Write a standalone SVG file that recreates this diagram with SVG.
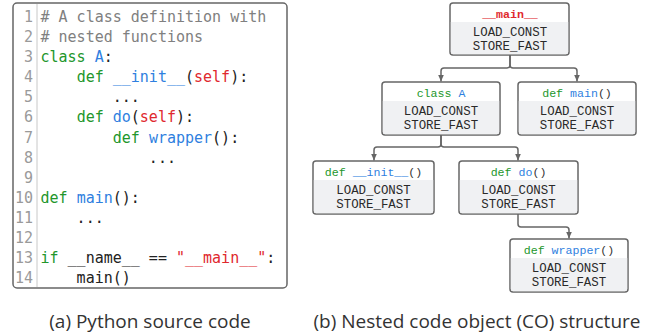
<svg xmlns="http://www.w3.org/2000/svg" width="651" height="336" viewBox="0 0 651 336">
<style>
.code{font-family:"DejaVu Sans Mono",monospace;font-size:15px;fill:#222;white-space:pre}
.ln{font-family:"DejaVu Sans Mono",monospace;font-size:15px;fill:#9a9a9a;text-anchor:end}
.cm{fill:#808080}.kw{fill:#22962b}.nm{fill:#2f7fe0}.rd{fill:#e0282e}
.box{fill:#fff;stroke:#666;stroke-width:1.5}
.body{fill:#f0f1f3}
.hd{font-family:"Liberation Mono",monospace;font-size:11.6px;fill:#333;text-anchor:middle;white-space:pre}
.op{font-family:"Liberation Mono",monospace;font-size:12.4px;fill:#2a2a2a;text-anchor:middle}
.cap{font-family:"Open Sans",sans-serif;font-size:19px;fill:#333;text-anchor:middle}
.edge{fill:none;stroke:#666;stroke-width:1.5}
</style>
<defs>
<marker id="arr" markerUnits="userSpaceOnUse" markerWidth="7" markerHeight="6" viewBox="0 0 7 6" refX="7" refY="3" orient="auto">
<path d="M0,0 L7,3 L0,6 Z" fill="#666"/>
</marker>
</defs>

<g id="code">
<rect x="13" y="3" width="274" height="285" rx="4" fill="#fff" stroke="#666" stroke-width="1.5"/>
<line x1="37" y1="4" x2="37" y2="287" stroke="#c8c8c8" stroke-width="1"/>
<g>
<text class="ln" x="33" y="22">1</text>
<text class="ln" x="33" y="42.1">2</text>
<text class="ln" x="33" y="62.2">3</text>
<text class="ln" x="33" y="82.2">4</text>
<text class="ln" x="33" y="102.3">5</text>
<text class="ln" x="33" y="122.4">6</text>
<text class="ln" x="33" y="142.5">7</text>
<text class="ln" x="33" y="162.6">8</text>
<text class="ln" x="33" y="182.6">9</text>
<text class="ln" x="33" y="202.7">10</text>
<text class="ln" x="33" y="222.8">11</text>
<text class="ln" x="33" y="242.9">12</text>
<text class="ln" x="33" y="263">13</text>
<text class="ln" x="33" y="283">14</text>
</g>
<g>
<text class="code" x="40.5" y="22"><tspan class="cm"># A class definition with</tspan></text>
<text class="code" x="40.5" y="42.1"><tspan class="cm"># nested functions</tspan></text>
<text class="code" x="40.5" y="62.2"><tspan class="kw">class</tspan> <tspan class="nm">A</tspan>:</text>
<text class="code" x="40.5" y="82.2">    <tspan class="kw">def</tspan> <tspan class="nm">__init__</tspan>(<tspan class="rd">self</tspan>):</text>
<text class="code" x="40.5" y="102.3">        ...</text>
<text class="code" x="40.5" y="122.4">    <tspan class="kw">def</tspan> <tspan class="nm">do</tspan>(<tspan class="rd">self</tspan>):</text>
<text class="code" x="40.5" y="142.5">        <tspan class="kw">def</tspan> <tspan class="nm">wrapper</tspan>():</text>
<text class="code" x="40.5" y="162.6">            ...</text>
<text class="code" x="40.5" y="202.7"><tspan class="kw">def</tspan> <tspan class="nm">main</tspan>():</text>
<text class="code" x="40.5" y="222.8">    ...</text>
<text class="code" x="40.5" y="263"><tspan class="kw">if</tspan> __name__ == <tspan class="rd">"__main__"</tspan>:</text>
<text class="code" x="40.5" y="283">    main()</text>
</g>
</g>

<g id="connectors">
<path class="edge" d="M510,55 V65 Q510,68 507,68 H444 Q441,68 441,71 V81.5" marker-end="url(#arr)"/>
<path class="edge" d="M510,55 V65 Q510,68 513,68 H574 Q577,68 577,71 V81.5" marker-end="url(#arr)"/>
<path class="edge" d="M441,135 V144 Q441,147 438,147 H377 Q374,147 374,150 V160.5" marker-end="url(#arr)"/>
<path class="edge" d="M441,135 V144 Q441,147 444,147 H515 Q518,147 518,150 V160.5" marker-end="url(#arr)"/>
<path class="edge" d="M518,214 V224 Q518,227 521,227 H566 Q569,227 569,230 V238.5" marker-end="url(#arr)"/>
</g>

<g id="node-main">
<rect class="box" x="450" y="3" width="119" height="52" rx="3"/>
<path class="body" d="M450.8,22 H568.2 V52 Q568.2,54.2 566,54.2 H453 Q450.8,54.2 450.8,52 Z"/>
<text class="hd" x="510" y="18" style="fill:#e0282e;font-weight:bold">__main__</text>
<text class="op" x="510" y="35.5">LOAD_CONST</text>
<text class="op" x="510" y="49.5">STORE_FAST</text>
</g>

<g id="node-classA">
<rect class="box" x="382" y="82" width="118" height="53" rx="3"/>
<path class="body" d="M382.8,101 H499.2 V132 Q499.2,134.2 497,134.2 H385 Q382.8,134.2 382.8,132 Z"/>
<text class="hd" x="441" y="97"><tspan class="kw">class</tspan> <tspan class="nm">A</tspan></text>
<text class="op" x="441" y="114.5">LOAD_CONST</text>
<text class="op" x="441" y="128.5">STORE_FAST</text>
</g>

<g id="node-mainfn">
<rect class="box" x="518" y="82" width="118" height="53" rx="3"/>
<path class="body" d="M518.8,101 H635.2 V132 Q635.2,134.2 633,134.2 H521 Q518.8,134.2 518.8,132 Z"/>
<text class="hd" x="577" y="97"><tspan class="kw">def</tspan> <tspan class="nm">main</tspan>()</text>
<text class="op" x="577" y="114.5">LOAD_CONST</text>
<text class="op" x="577" y="128.5">STORE_FAST</text>
</g>

<g id="node-init">
<rect class="box" x="313" y="161" width="121" height="53" rx="3"/>
<path class="body" d="M313.8,180 H433.2 V211 Q433.2,213.2 431,213.2 H316 Q313.8,213.2 313.8,211 Z"/>
<text class="hd" x="373.5" y="176"><tspan class="kw">def</tspan> <tspan class="nm">__init__</tspan>()</text>
<text class="op" x="373.5" y="193.5">LOAD_CONST</text>
<text class="op" x="373.5" y="207.5">STORE_FAST</text>
</g>

<g id="node-do">
<rect class="box" x="459" y="161" width="119" height="53" rx="3"/>
<path class="body" d="M459.8,180 H577.2 V211 Q577.2,213.2 575,213.2 H462 Q459.8,213.2 459.8,211 Z"/>
<text class="hd" x="518.5" y="176"><tspan class="kw">def</tspan> <tspan class="nm">do</tspan>()</text>
<text class="op" x="518.5" y="193.5">LOAD_CONST</text>
<text class="op" x="518.5" y="207.5">STORE_FAST</text>
</g>

<g id="node-wrapper">
<rect class="box" x="510" y="239" width="118" height="53" rx="3"/>
<path class="body" d="M510.8,258 H627.2 V289 Q627.2,291.2 625,291.2 H513 Q510.8,291.2 510.8,289 Z"/>
<text class="hd" x="569" y="254"><tspan class="kw">def</tspan> <tspan class="nm">wrapper</tspan>()</text>
<text class="op" x="569" y="271.5">LOAD_CONST</text>
<text class="op" x="569" y="285.5">STORE_FAST</text>
</g>

<text class="cap" x="150" y="328">(a) Python source code</text>
<text class="cap" x="477" y="328">(b) Nested code object (CO) structure</text>
</svg>
